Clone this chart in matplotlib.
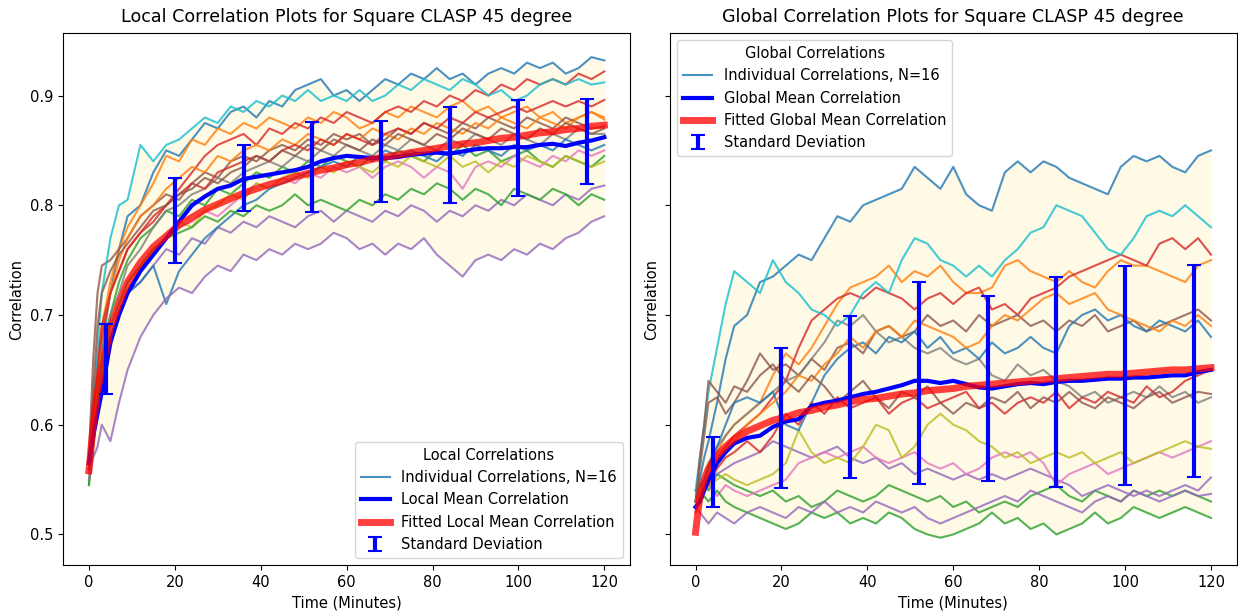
import numpy as np
import matplotlib
matplotlib.use("Agg")
import matplotlib.pyplot as plt

# sample times (minutes)
minutes = [0, 1, 2, 3, 5, 7, 9, 12, 15, 18, 21, 24, 27, 30, 33, 36, 39, 42, 45, 48, 51, 54,
           57, 60, 63, 66, 69, 72, 75, 78, 81, 84, 87, 90, 93, 96, 99, 102, 105, 108, 111, 114, 117, 120]

# local correlations, one row per run (16 runs)
local_runs = [
    [0.56, 0.60, 0.64, 0.67, 0.72, 0.76, 0.79, 0.80, 0.83, 0.85, 0.845, 0.86, 0.875, 0.87, 0.885, 0.89, 0.88, 0.895, 0.89, 0.905, 0.91, 0.915,
     0.90, 0.905, 0.895, 0.905, 0.915, 0.91, 0.92, 0.915, 0.925, 0.915, 0.92, 0.91, 0.92, 0.925, 0.92, 0.93, 0.925, 0.93, 0.92, 0.925, 0.935, 0.932],
    [0.56, 0.61, 0.65, 0.69, 0.73, 0.76, 0.78, 0.80, 0.82, 0.845, 0.84, 0.86, 0.855, 0.87, 0.865, 0.875, 0.87, 0.88, 0.875, 0.87, 0.88, 0.875,
     0.885, 0.88, 0.87, 0.875, 0.885, 0.88, 0.89, 0.885, 0.88, 0.89, 0.895, 0.885, 0.89, 0.88, 0.885, 0.89, 0.88, 0.885, 0.875, 0.88, 0.885, 0.878],
    [0.545, 0.59, 0.63, 0.66, 0.70, 0.73, 0.75, 0.77, 0.78, 0.795, 0.79, 0.805, 0.80, 0.815, 0.81, 0.82, 0.83, 0.825, 0.835, 0.83, 0.84, 0.835,
     0.845, 0.84, 0.835, 0.845, 0.84, 0.85, 0.845, 0.84, 0.85, 0.845, 0.855, 0.845, 0.85, 0.84, 0.845, 0.85, 0.84, 0.835, 0.845, 0.84, 0.835, 0.845],
    [0.565, 0.62, 0.66, 0.69, 0.72, 0.74, 0.76, 0.775, 0.79, 0.80, 0.815, 0.83, 0.845, 0.855, 0.86, 0.865, 0.855, 0.87, 0.865, 0.875, 0.87, 0.88,
     0.875, 0.885, 0.88, 0.875, 0.885, 0.89, 0.885, 0.895, 0.89, 0.90, 0.895, 0.905, 0.90, 0.91, 0.905, 0.915, 0.91, 0.915, 0.91, 0.92, 0.915, 0.922],
    [0.555, 0.59, 0.62, 0.65, 0.68, 0.70, 0.72, 0.73, 0.745, 0.76, 0.755, 0.77, 0.765, 0.78, 0.775, 0.785, 0.78, 0.79, 0.785, 0.78, 0.79, 0.795,
     0.785, 0.795, 0.79, 0.785, 0.795, 0.79, 0.80, 0.795, 0.785, 0.795, 0.79, 0.80, 0.795, 0.805, 0.80, 0.81, 0.805, 0.80, 0.81, 0.805, 0.815, 0.818],
    [0.57, 0.66, 0.72, 0.745, 0.75, 0.76, 0.77, 0.79, 0.80, 0.81, 0.805, 0.82, 0.83, 0.825, 0.84, 0.845, 0.84, 0.85, 0.855, 0.85, 0.86, 0.855,
     0.865, 0.86, 0.865, 0.855, 0.86, 0.87, 0.865, 0.875, 0.87, 0.865, 0.875, 0.87, 0.88, 0.875, 0.87, 0.88, 0.875, 0.87, 0.88, 0.875, 0.87, 0.872],
    [0.555, 0.59, 0.62, 0.65, 0.68, 0.70, 0.72, 0.74, 0.76, 0.77, 0.78, 0.785, 0.795, 0.79, 0.80, 0.81, 0.82, 0.815, 0.825, 0.82, 0.83, 0.825,
     0.835, 0.83, 0.835, 0.825, 0.835, 0.84, 0.835, 0.825, 0.835, 0.83, 0.815, 0.835, 0.84, 0.835, 0.845, 0.84, 0.835, 0.845, 0.84, 0.85, 0.845, 0.85],
    [0.56, 0.60, 0.64, 0.67, 0.70, 0.72, 0.745, 0.76, 0.78, 0.795, 0.80, 0.81, 0.815, 0.825, 0.82, 0.83, 0.835, 0.84, 0.835, 0.845, 0.84, 0.85,
     0.845, 0.855, 0.85, 0.845, 0.855, 0.85, 0.86, 0.855, 0.85, 0.86, 0.855, 0.865, 0.86, 0.855, 0.865, 0.86, 0.855, 0.865, 0.86, 0.87, 0.865, 0.865],
    [0.55, 0.58, 0.61, 0.64, 0.67, 0.70, 0.72, 0.745, 0.76, 0.77, 0.785, 0.78, 0.795, 0.80, 0.81, 0.805, 0.82, 0.815, 0.825, 0.83, 0.825, 0.835,
     0.83, 0.84, 0.835, 0.83, 0.84, 0.835, 0.845, 0.84, 0.835, 0.845, 0.835, 0.84, 0.83, 0.84, 0.835, 0.845, 0.84, 0.835, 0.845, 0.84, 0.835, 0.84],
    [0.565, 0.62, 0.67, 0.72, 0.77, 0.80, 0.805, 0.855, 0.84, 0.855, 0.86, 0.87, 0.88, 0.875, 0.89, 0.885, 0.895, 0.89, 0.90, 0.895, 0.905, 0.895,
     0.90, 0.895, 0.905, 0.895, 0.90, 0.91, 0.905, 0.915, 0.91, 0.905, 0.915, 0.91, 0.90, 0.905, 0.895, 0.90, 0.91, 0.915, 0.91, 0.915, 0.91, 0.912],
    [0.56, 0.59, 0.62, 0.65, 0.68, 0.70, 0.72, 0.73, 0.745, 0.71, 0.74, 0.755, 0.77, 0.78, 0.79, 0.80, 0.805, 0.815, 0.82, 0.825, 0.83, 0.835,
     0.84, 0.835, 0.845, 0.84, 0.85, 0.845, 0.85, 0.845, 0.84, 0.85, 0.845, 0.855, 0.85, 0.845, 0.855, 0.85, 0.855, 0.85, 0.86, 0.855, 0.85, 0.855],
    [0.56, 0.60, 0.64, 0.68, 0.72, 0.75, 0.77, 0.79, 0.80, 0.815, 0.825, 0.835, 0.83, 0.845, 0.84, 0.85, 0.855, 0.85, 0.86, 0.855, 0.865, 0.86,
     0.855, 0.865, 0.86, 0.87, 0.865, 0.86, 0.87, 0.865, 0.875, 0.87, 0.865, 0.875, 0.87, 0.88, 0.875, 0.87, 0.88, 0.875, 0.87, 0.88, 0.885, 0.88],
    [0.545, 0.58, 0.62, 0.65, 0.69, 0.71, 0.73, 0.745, 0.76, 0.77, 0.775, 0.78, 0.79, 0.785, 0.795, 0.79, 0.80, 0.795, 0.80, 0.81, 0.80, 0.805,
     0.80, 0.795, 0.805, 0.80, 0.81, 0.805, 0.815, 0.81, 0.82, 0.815, 0.805, 0.815, 0.81, 0.80, 0.815, 0.81, 0.805, 0.815, 0.81, 0.80, 0.81, 0.805],
    [0.56, 0.61, 0.65, 0.68, 0.72, 0.74, 0.76, 0.775, 0.785, 0.80, 0.81, 0.82, 0.815, 0.83, 0.835, 0.84, 0.845, 0.84, 0.85, 0.855, 0.85, 0.86,
     0.855, 0.865, 0.86, 0.855, 0.865, 0.87, 0.865, 0.875, 0.87, 0.88, 0.875, 0.885, 0.88, 0.885, 0.89, 0.885, 0.89, 0.895, 0.89, 0.895, 0.89, 0.896],
    [0.55, 0.57, 0.58, 0.60, 0.585, 0.62, 0.65, 0.68, 0.70, 0.715, 0.725, 0.72, 0.735, 0.745, 0.74, 0.755, 0.75, 0.76, 0.755, 0.765, 0.76, 0.765,
     0.775, 0.77, 0.76, 0.765, 0.755, 0.765, 0.76, 0.77, 0.755, 0.745, 0.735, 0.75, 0.755, 0.75, 0.76, 0.755, 0.765, 0.76, 0.77, 0.775, 0.785, 0.79],
    [0.565, 0.63, 0.69, 0.72, 0.74, 0.755, 0.765, 0.78, 0.795, 0.80, 0.81, 0.815, 0.825, 0.82, 0.83, 0.835, 0.845, 0.84, 0.85, 0.845, 0.855, 0.85,
     0.86, 0.855, 0.85, 0.86, 0.855, 0.865, 0.86, 0.855, 0.865, 0.86, 0.87, 0.865, 0.86, 0.87, 0.865, 0.86, 0.87, 0.865, 0.875, 0.87, 0.865, 0.87],
]
local_mean = [0.565, 0.59, 0.61, 0.63, 0.675, 0.70, 0.72, 0.74, 0.755, 0.77, 0.785, 0.80, 0.808, 0.815, 0.818, 0.824, 0.826, 0.828, 0.83, 0.832,
              0.835, 0.84, 0.843, 0.845, 0.844, 0.843, 0.843, 0.844, 0.846, 0.847, 0.848, 0.847, 0.849, 0.851, 0.852, 0.852, 0.853, 0.853,
              0.855, 0.856, 0.854, 0.857, 0.859, 0.862]
local_fit = [0.558, 0.60, 0.63, 0.65, 0.688, 0.71, 0.73, 0.748, 0.762, 0.772, 0.782, 0.789, 0.796, 0.801, 0.806, 0.811, 0.815, 0.819, 0.822,
             0.826, 0.829, 0.832, 0.834, 0.837, 0.839, 0.842, 0.844, 0.846, 0.848, 0.850, 0.852, 0.854, 0.856, 0.857, 0.859, 0.861, 0.862,
             0.864, 0.866, 0.867, 0.869, 0.870, 0.872, 0.873]

# global correlations, one row per run (16 runs)
global_runs = [
    [0.53, 0.55, 0.57, 0.585, 0.62, 0.66, 0.69, 0.70, 0.73, 0.735, 0.745, 0.755, 0.75, 0.77, 0.79, 0.785, 0.80, 0.805, 0.81, 0.815, 0.835, 0.825,
     0.815, 0.835, 0.81, 0.80, 0.795, 0.83, 0.84, 0.83, 0.84, 0.835, 0.825, 0.82, 0.815, 0.81, 0.835, 0.845, 0.84, 0.845, 0.835, 0.83, 0.845, 0.85],
    [0.53, 0.54, 0.55, 0.56, 0.575, 0.59, 0.60, 0.61, 0.62, 0.645, 0.665, 0.655, 0.67, 0.69, 0.71, 0.725, 0.73, 0.735, 0.745, 0.73, 0.74, 0.735,
     0.745, 0.73, 0.72, 0.72, 0.725, 0.745, 0.75, 0.74, 0.735, 0.73, 0.74, 0.73, 0.725, 0.74, 0.75, 0.745, 0.745, 0.74, 0.735, 0.73, 0.745, 0.75],
    [0.54, 0.545, 0.55, 0.54, 0.555, 0.55, 0.545, 0.54, 0.535, 0.54, 0.53, 0.535, 0.525, 0.53, 0.54, 0.535, 0.53, 0.535, 0.545, 0.54, 0.535, 0.53,
     0.535, 0.525, 0.53, 0.52, 0.525, 0.53, 0.525, 0.535, 0.54, 0.545, 0.535, 0.53, 0.54, 0.535, 0.53, 0.54, 0.535, 0.54, 0.535, 0.54, 0.535, 0.53],
    [0.52, 0.53, 0.545, 0.555, 0.57, 0.58, 0.59, 0.60, 0.61, 0.625, 0.64, 0.67, 0.695, 0.705, 0.715, 0.72, 0.715, 0.725, 0.72, 0.715, 0.705, 0.715,
     0.72, 0.71, 0.72, 0.725, 0.705, 0.71, 0.70, 0.715, 0.72, 0.725, 0.735, 0.74, 0.745, 0.75, 0.755, 0.75, 0.745, 0.765, 0.77, 0.76, 0.77, 0.755],
    [0.53, 0.535, 0.54, 0.55, 0.555, 0.56, 0.565, 0.57, 0.575, 0.585, 0.58, 0.575, 0.57, 0.575, 0.58, 0.57, 0.565, 0.57, 0.56, 0.565, 0.555, 0.56,
     0.555, 0.55, 0.555, 0.55, 0.555, 0.55, 0.555, 0.56, 0.555, 0.55, 0.545, 0.535, 0.54, 0.545, 0.54, 0.535, 0.54, 0.535, 0.54, 0.545, 0.54, 0.552],
    [0.53, 0.56, 0.59, 0.62, 0.625, 0.61, 0.62, 0.64, 0.665, 0.65, 0.655, 0.645, 0.66, 0.65, 0.67, 0.675, 0.665, 0.685, 0.69, 0.68, 0.685, 0.70,
     0.69, 0.695, 0.685, 0.70, 0.69, 0.695, 0.70, 0.69, 0.695, 0.685, 0.695, 0.69, 0.70, 0.685, 0.69, 0.695, 0.685, 0.69, 0.695, 0.70, 0.705, 0.695],
    [0.53, 0.535, 0.54, 0.545, 0.535, 0.545, 0.54, 0.535, 0.54, 0.545, 0.55, 0.565, 0.57, 0.575, 0.57, 0.575, 0.58, 0.57, 0.565, 0.57, 0.575, 0.565,
     0.56, 0.565, 0.555, 0.56, 0.57, 0.575, 0.57, 0.575, 0.565, 0.545, 0.555, 0.56, 0.565, 0.555, 0.56, 0.565, 0.57, 0.575, 0.57, 0.575, 0.58, 0.585],
    [0.53, 0.54, 0.55, 0.565, 0.58, 0.59, 0.60, 0.61, 0.62, 0.63, 0.64, 0.645, 0.66, 0.675, 0.695, 0.69, 0.70, 0.685, 0.675, 0.68, 0.67, 0.665,
     0.67, 0.66, 0.655, 0.66, 0.645, 0.64, 0.655, 0.645, 0.65, 0.64, 0.635, 0.625, 0.63, 0.62, 0.625, 0.63, 0.625, 0.635, 0.625, 0.63, 0.62, 0.625],
    [0.53, 0.535, 0.54, 0.545, 0.55, 0.555, 0.55, 0.545, 0.55, 0.555, 0.565, 0.595, 0.575, 0.565, 0.57, 0.565, 0.58, 0.60, 0.595, 0.57, 0.58, 0.60,
     0.61, 0.60, 0.595, 0.585, 0.58, 0.57, 0.575, 0.565, 0.57, 0.575, 0.57, 0.575, 0.565, 0.57, 0.575, 0.565, 0.57, 0.575, 0.58, 0.585, 0.58, 0.578],
    [0.54, 0.57, 0.60, 0.63, 0.67, 0.71, 0.74, 0.73, 0.72, 0.75, 0.73, 0.72, 0.705, 0.70, 0.69, 0.70, 0.72, 0.73, 0.72, 0.75, 0.77, 0.765,
     0.75, 0.745, 0.735, 0.745, 0.735, 0.75, 0.76, 0.775, 0.78, 0.80, 0.795, 0.79, 0.775, 0.76, 0.755, 0.77, 0.79, 0.795, 0.79, 0.80, 0.79, 0.78],
    [0.53, 0.54, 0.55, 0.56, 0.58, 0.60, 0.62, 0.625, 0.62, 0.63, 0.60, 0.595, 0.62, 0.645, 0.66, 0.67, 0.675, 0.665, 0.68, 0.675, 0.685, 0.67,
     0.68, 0.665, 0.67, 0.66, 0.675, 0.665, 0.67, 0.68, 0.67, 0.665, 0.69, 0.70, 0.705, 0.695, 0.70, 0.69, 0.685, 0.695, 0.69, 0.685, 0.695, 0.68],
    [0.53, 0.54, 0.545, 0.555, 0.565, 0.575, 0.585, 0.60, 0.61, 0.62, 0.63, 0.645, 0.64, 0.655, 0.665, 0.68, 0.67, 0.685, 0.69, 0.68, 0.695, 0.69,
     0.685, 0.68, 0.67, 0.675, 0.69, 0.70, 0.695, 0.705, 0.715, 0.72, 0.71, 0.715, 0.72, 0.705, 0.70, 0.695, 0.69, 0.685, 0.695, 0.69, 0.70, 0.69],
    [0.525, 0.53, 0.535, 0.53, 0.54, 0.53, 0.525, 0.52, 0.515, 0.51, 0.505, 0.51, 0.52, 0.515, 0.52, 0.51, 0.515, 0.51, 0.52, 0.515, 0.505, 0.50,
     0.497, 0.50, 0.505, 0.51, 0.52, 0.51, 0.515, 0.505, 0.51, 0.50, 0.505, 0.51, 0.52, 0.51, 0.515, 0.525, 0.52, 0.515, 0.52, 0.525, 0.52, 0.515],
    [0.525, 0.53, 0.54, 0.545, 0.56, 0.57, 0.575, 0.585, 0.575, 0.59, 0.61, 0.60, 0.62, 0.61, 0.625, 0.615, 0.62, 0.625, 0.61, 0.62, 0.625, 0.615,
     0.62, 0.625, 0.63, 0.615, 0.62, 0.61, 0.62, 0.625, 0.62, 0.63, 0.615, 0.625, 0.62, 0.63, 0.625, 0.62, 0.635, 0.625, 0.63, 0.64, 0.645, 0.65],
    [0.525, 0.52, 0.515, 0.51, 0.52, 0.515, 0.51, 0.52, 0.525, 0.52, 0.515, 0.525, 0.52, 0.53, 0.52, 0.525, 0.52, 0.53, 0.525, 0.52, 0.525, 0.515,
     0.51, 0.515, 0.52, 0.525, 0.53, 0.535, 0.53, 0.54, 0.535, 0.53, 0.525, 0.52, 0.53, 0.535, 0.53, 0.54, 0.535, 0.53, 0.535, 0.54, 0.535, 0.537],
    [0.53, 0.57, 0.60, 0.64, 0.63, 0.62, 0.635, 0.63, 0.645, 0.655, 0.64, 0.63, 0.645, 0.635, 0.62, 0.63, 0.64, 0.625, 0.615, 0.63, 0.625, 0.635,
     0.62, 0.61, 0.62, 0.615, 0.625, 0.62, 0.63, 0.615, 0.625, 0.62, 0.63, 0.62, 0.615, 0.625, 0.62, 0.615, 0.625, 0.63, 0.62, 0.625, 0.63, 0.628],
]
global_mean = [0.525, 0.53, 0.54, 0.55, 0.565, 0.575, 0.583, 0.588, 0.59, 0.598, 0.603, 0.605, 0.617, 0.62, 0.622, 0.625, 0.628, 0.63, 0.633,
               0.636, 0.64, 0.64, 0.638, 0.64, 0.637, 0.634, 0.633, 0.635, 0.637, 0.638, 0.637, 0.639, 0.64, 0.64, 0.641, 0.642, 0.642, 0.643,
               0.643, 0.644, 0.645, 0.645, 0.648, 0.65]
global_fit = [0.502, 0.535, 0.55, 0.56, 0.572, 0.58, 0.587, 0.594, 0.599, 0.604, 0.607, 0.611, 0.613, 0.616, 0.618, 0.621, 0.623, 0.624, 0.626,
              0.628, 0.629, 0.631, 0.632, 0.633, 0.635, 0.636, 0.637, 0.638, 0.639, 0.64, 0.641, 0.642, 0.643, 0.644, 0.645, 0.646, 0.646,
              0.647, 0.648, 0.649, 0.65, 0.65, 0.651, 0.652]

# standard deviation markers
err_minutes = [4, 20, 36, 52, 68, 84, 100, 116]
local_err_mean = [0.660, 0.786, 0.825, 0.835, 0.840, 0.846, 0.852, 0.858]
local_err_std = [0.032, 0.039, 0.030, 0.041, 0.037, 0.044, 0.044, 0.039]
global_err_mean = [0.557, 0.606, 0.625, 0.638, 0.633, 0.639, 0.645, 0.649]
global_err_std = [0.032, 0.064, 0.074, 0.092, 0.084, 0.096, 0.100, 0.097]

colors = plt.rcParams['axes.prop_cycle'].by_key()['color']


def draw_panel(ax, runs, mean, fit, err_mean, err_std, kind):
    runs = np.array(runs)
    ax.fill_between(minutes, runs.min(axis=0), runs.max(axis=0), color='cornsilk', alpha=0.7, lw=0)
    for i, run in enumerate(runs):
        label = "Individual Correlations, N=16" if i == 0 else None
        ax.plot(minutes, run, color=colors[i % 10], lw=1.5, alpha=0.8, label=label)
    ax.plot(minutes, mean, color='blue', lw=3, label=f"{kind} Mean Correlation")
    ax.plot(minutes, fit, color='red', lw=5, alpha=0.75, label=f"Fitted {kind} Mean Correlation")
    ax.errorbar(err_minutes, err_mean, yerr=err_std, fmt='none', ecolor='blue', elinewidth=3,
                capsize=5, capthick=1.5, label="Standard Deviation")
    ax.set_xlabel("Time (Minutes)", fontsize=10.5)
    ax.set_ylabel("Correlation", fontsize=10.5)
    ax.set_title(f"{kind} Correlation Plots for Square CLASP 45 degree", fontsize=12.6, pad=8)
    ax.tick_params(labelsize=10.5)


fig, (ax1, ax2) = plt.subplots(1, 2, figsize=(12.38, 6.11), dpi=100, sharey=True)
draw_panel(ax1, local_runs, local_mean, local_fit, local_err_mean, local_err_std, "Local")
draw_panel(ax2, global_runs, global_mean, global_fit, global_err_mean, global_err_std, "Global")
ax2.tick_params(labelleft=False)
ax1.set_ylim(0.472, 0.957)
ax1.set_xlim(-6, 126)
ax2.set_xlim(-6, 126)
ax1.legend(title="Local Correlations", loc='lower right', fontsize=10.5, title_fontsize=10.5)
ax2.legend(title="Global Correlations", loc='upper left', fontsize=10.5, title_fontsize=10.5)

fig.subplots_adjust(left=0.051, right=0.999, bottom=0.075, top=0.946, wspace=0.07)
fig.savefig("out.png", dpi=100)
